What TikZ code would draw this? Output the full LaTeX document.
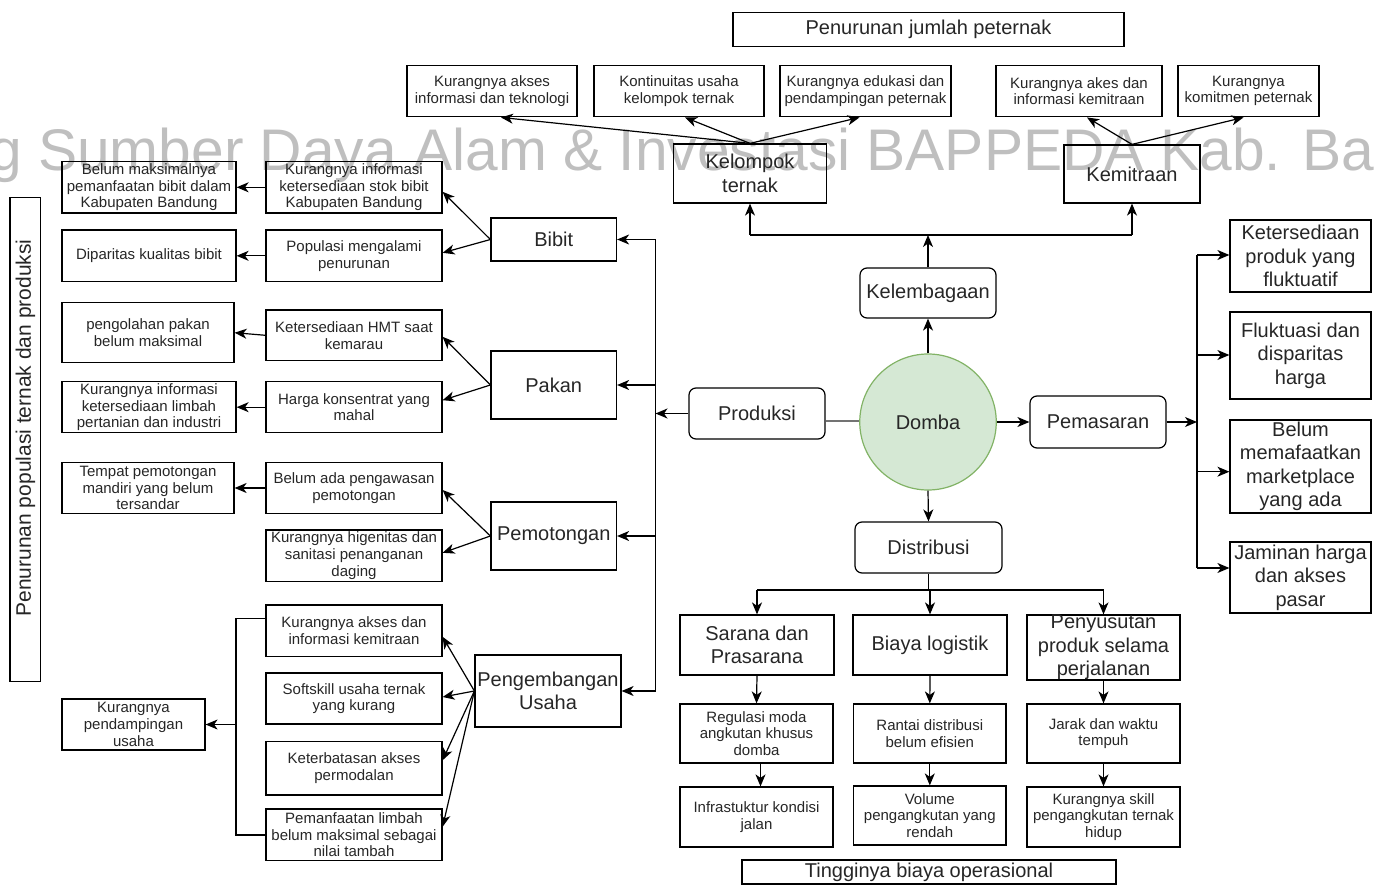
\documentclass[tikz,border=0pt]{standalone}
\usepackage{fontspec}
\setmainfont{Liberation Sans}
\usetikzlibrary{arrows.meta,shapes.geometric,calc}

\tikzset{
  bx/.style={draw=black, line width=1.2pt, align=center, inner sep=0pt, text=black!85},
  rbx/.style={bx, rounded corners=7pt},
  sm/.style={font=\fontsize{15}{16.7}\selectfont},
  md/.style={font=\fontsize{20}{23.5}\selectfont},
  arr/.style={-{Stealth[length=12pt,width=10pt,inset=3.5pt]}, line width=1.2pt},
  ln/.style={line width=1.2pt},
  mark text/.style={anchor=base west, inner sep=0pt, text=black!25,
    font=\fontsize{58.7}{60}\selectfont}
}

\begin{document}
\begin{tikzpicture}[x=1pt,y=-1pt]
\useasboundingbox (0,0) rectangle (1381,885);

% watermark behind everything
\begin{scope}
  \clip (0,0) rectangle (1381,885);
  \node[mark text] (wm) at (-11,171) {g Sumber Daya Alam \& Investasi BAPPEDA Kab. Ba};
\end{scope}

% ---------- centre ----------
\node[ellipse, draw={rgb,255:red,130;green,179;blue,102}, fill={rgb,255:red,213;green,232;blue,212},
      line width=1.2pt, minimum width=136.5, minimum height=136, inner sep=0pt, md, text=black!85]
      (dm) at (928,422) {Domba};
\node[rbx,md,minimum width=136,minimum height=50] (kl) at (928,293) {Kelembagaan};
\node[rbx,md,minimum width=136,minimum height=51] (pr) at (757,413.5) {Produksi};
\node[rbx,md,minimum width=147,minimum height=51] (ds) at (928.5,547.5) {Distribusi};
\node[rbx,md,minimum width=136,minimum height=52] (pm) at (1098,422) {Pemasaran};

% ---------- top: kelembagaan ----------
\node[bx,md,minimum width=391,minimum height=34] (pjp) at (928.5,29.7) {Penurunan jumlah peternak};
\node[bx,sm,minimum width=170,minimum height=51.7] (t1) at (492,91) {Kurangnya akses\\informasi dan teknologi};
\node[bx,sm,minimum width=170,minimum height=51.7] (t2) at (679,91) {Kontinuitas usaha\\kelompok ternak};
\node[bx,sm,minimum width=171,minimum height=51.7] (t3) at (865.5,91) {Kurangnya edukasi dan\\pendampingan peternak};
\node[bx,sm,minimum width=166,minimum height=51.7] (t4) at (1079,91) {Kurangnya akes dan\\informasi kemitraan};
\node[bx,sm,minimum width=141,minimum height=51.7] (t5) at (1248.5,91) {Kurangnya\\komitmen peternak};
\node[bx,md,minimum width=153,minimum height=59] (kt) at (750,173.5) {Kelompok\\ternak};
\node[bx,md,minimum width=136,minimum height=58] (km) at (1132,174) {Kemitraan};

\draw[arr] (dm.north) -- (kl.south);
\coordinate (hl) at (750,235);
\coordinate (hr) at (1132,235);
\draw[arr] (kl.north) -- (kl.north |- hl);
\draw[ln] (hl) -- (hr);
\draw[arr] (hl) -- (kt.south);
\draw[arr] (hr) -- (km.south);
\draw[arr] (kt.north) -- ($(t1.south)+(9,0)$);
\draw[arr] (kt.north) -- ($(t2.south)+(6,0)$);
\draw[arr] (kt.north) -- ($(t3.south)+(-6,0)$);
\draw[arr] (km.north) -- ($(t4.south)+(8,0)$);
\draw[arr] (km.north) -- ($(t5.south)+(-5,0)$);

% ---------- left: produksi ----------
\node[bx,md,minimum width=125.5,minimum height=43] (bb) at (553.75,239.5) {Bibit};
\node[bx,md,minimum width=125.5,minimum height=68] (pk) at (553.75,385) {Pakan};
\node[bx,md,minimum width=125.5,minimum height=68] (pt) at (553.75,536) {Pemotongan};
\node[bx,md,minimum width=146,minimum height=72] (pu) at (548,691) {Pengembangan\\Usaha};

\coordinate (sp) at (655.5,0);
\draw[ln, draw=black!55, line width=2pt] (dm.west |- 0,421) -- (pr.east |- 0,421);
\draw[arr] (pr.west) -- (sp |- pr.west);
\draw[ln] (sp |- bb.east) -- (sp |- pu.east);
\draw[arr] (sp |- bb.east) -- (bb.east);
\draw[arr] (sp |- pk.east) -- (pk.east);
\draw[arr] (sp |- pt.east) -- (pt.east);
\draw[arr] (sp |- pu.east) -- (pu.east);

% second column
\node[bx,sm,minimum width=176,minimum height=51.3] (c2a) at (354,187.3) {Kurangnya informasi\\ketersediaan stok bibit\\Kabupaten Bandung};
\node[bx,sm,minimum width=176,minimum height=51.7] (c2b) at (354,255.8) {Populasi mengalami\\penurunan};
\node[bx,sm,minimum width=176,minimum height=50.7] (c2c) at (354,335.3) {Ketersediaan HMT saat\\kemarau};
\node[bx,sm,minimum width=176,minimum height=51] (c2d) at (354,407.2) {Harga konsentrat yang\\mahal};
\node[bx,sm,minimum width=176,minimum height=50.6] (c2e) at (354,488) {Belum ada pengawasan\\pemotongan};
\node[bx,sm,minimum width=176,minimum height=51.7] (c2f) at (354,555.8) {Kurangnya higenitas dan\\sanitasi penanganan\\daging};
\node[bx,sm,minimum width=176,minimum height=51.7] (c2g) at (354,630.8) {Kurangnya akses dan\\informasi kemitraan};
\node[bx,sm,minimum width=176,minimum height=51] (c2h) at (354,698.5) {Softskill usaha ternak\\yang kurang};
\node[bx,sm,minimum width=176,minimum height=53.3] (c2i) at (354,768.3) {Keterbatasan akses\\permodalan};
\node[bx,sm,minimum width=176,minimum height=51.7] (c2j) at (354,834.8) {Pemanfaatan limbah\\belum maksimal sebagai\\nilai tambah};

% first column
\node[bx,sm,minimum width=174,minimum height=51.3] (c1a) at (149,187.3) {Belum maksimalnya\\pemanfaatan bibit dalam\\Kabupaten Bandung};
\node[bx,sm,minimum width=174,minimum height=51.7] (c1b) at (149,255.8) {Diparitas kualitas bibit};
\node[bx,sm,minimum width=172,minimum height=60] (c1c) at (148,332.7) {pengolahan pakan\\belum maksimal};
\node[bx,sm,minimum width=174,minimum height=51] (c1d) at (149,407.2) {Kurangnya informasi\\ketersediaan limbah\\pertanian dan industri};
\node[bx,sm,minimum width=172,minimum height=50.6] (c1e) at (148,488) {Tempat pemotongan\\mandiri yang belum\\tersandar};
\node[bx,sm,minimum width=143,minimum height=51] (c1f) at (133.5,724.5) {Kurangnya\\pendampingan\\usaha};

% side label: frame and rotated caption
\node[bx,rotate=90,minimum width=484,minimum height=30.7] (vframe) at (25.35,439.7) {};
\node[rotate=90,inner sep=0pt,text=black!85,font=\fontsize{21}{24}\selectfont] (vlab) at (25.35,428) {Penurunan populasi ternak dan produksi};

\draw[arr] (bb.west) -- ($(c2a.east)+(0,4.5)$);
\draw[arr] (bb.west) -- ($(c2b.east)+(0,-3)$);
\draw[arr] (pk.west) -- ($(c2c.east)+(0,1.5)$);
\draw[arr] (pk.west) -- ($(c2d.east)+(0,-7)$);
\draw[arr] (pt.west) -- ($(c2e.east)+(0,2)$);
\draw[arr] (pt.west) -- ($(c2f.east)+(0,-3)$);
\draw[arr] (pu.west) -- ($(c2g.east)+(0,6)$);
\draw[arr] (pu.west) -- ($(c2h.east)+(0,-1.5)$);
\draw[arr] (pu.west) -- ($(c2i.east)+(0,-8)$);
\draw[arr] (pu.west) -- ($(c2j.east)+(0,-8)$);

\draw[arr] (c2a.west) -- (c1a.east);
\draw[arr] (c2b.west) -- (c1b.east);
\draw[arr] (c2c.west) -- (c1c.east);
\draw[arr] (c2d.west) -- (c1d.east);
\draw[arr] (c2e.west) -- (c1e.east);

\coordinate (bt) at (236,618.3);
\coordinate (bm) at (236,835);
\draw[ln] (c2g.west |- bt) -- (bt) -- (bm) -- (c2j.west |- bm);
\draw[arr] (bt |- c1f.east) -- (c1f.east);

% ---------- bottom: distribusi ----------
\node[bx,md,minimum width=154,minimum height=60] (b1) at (757,645) {Sarana dan\\Prasarana};
\node[bx,md,minimum width=154,minimum height=60] (b2) at (930,645) {Biaya logistik};
\node[bx,md,minimum width=153,minimum height=65] (b3) at (1103.5,647.5) {Penyusutan\\produk selama\\perjalanan};
\node[bx,sm,minimum width=153,minimum height=59] (b4) at (756.5,733.5) {Regulasi moda\\angkutan khusus\\domba};
\node[bx,sm,minimum width=152.4,minimum height=59] (b5) at (929.8,733.5) {Rantai distribusi\\belum efisien};
\node[bx,sm,minimum width=153,minimum height=59] (b6) at (1103.5,733.5) {Jarak dan waktu\\tempuh};
\node[bx,sm,minimum width=153,minimum height=60] (b7) at (756.5,817) {Infrastuktur kondisi\\jalan};
\node[bx,sm,minimum width=152.4,minimum height=59] (b8) at (929.8,815.5) {Volume\\pengangkutan yang\\rendah};
\node[bx,sm,minimum width=153,minimum height=60] (b9) at (1103.5,817) {Kurangnya skill\\pengangkutan ternak\\hidup};
\node[bx,md,minimum width=374,minimum height=24] (tb) at (929,872) {Tingginya biaya operasional};

\draw[arr] (dm.south) -- (ds.north);
\coordinate (dl) at (757,590);
\coordinate (dr) at (1103.5,590);
\draw[ln] (ds.south) -- (ds.south |- dl);
\draw[ln] (dl) -- (dr);
\draw[arr] (dl) -- (b1.north);
\draw[arr] (b2.north |- dl) -- (b2.north);
\draw[arr] (dr) -- (b3.north);
\draw[arr] (b1.south) -- (b4.north);
\draw[arr] ($(b4.south)+(4,0)$) -- ($(b7.north)+(4,0)$);
\draw[arr] (b2.south) -- (b5.north);
\draw[arr] (b5.south) -- (b8.north);
\draw[arr] (b3.south) -- (b6.north);
\draw[arr] (b6.south) -- (b9.north);

% ---------- right: pemasaran ----------
\node[bx,md,minimum width=141,minimum height=72] (r1) at (1300.5,256) {Ketersediaan\\produk yang\\fluktuatif};
\node[bx,md,minimum width=141,minimum height=87] (r2) at (1300.5,355.5) {Fluktuasi dan\\disparitas\\harga};
\node[bx,md,minimum width=141,minimum height=93] (r3) at (1300.5,466.5) {Belum\\memafaatkan\\marketplace\\yang ada};
\node[bx,md,minimum width=141,minimum height=71] (r4) at (1300.5,577.5) {Jaminan harga\\dan akses\\pasar};

\coordinate (rs) at (1197,0);
\draw[arr] (dm.east) -- (pm.west);
\draw[arr] (pm.east) -- (rs |- pm.east);
\draw[ln] (rs |- 0,255) -- (rs |- 0,568);
\draw[arr] (rs |- 0,255) -- (r1.west |- 0,255);
\draw[arr] (rs |- 0,355) -- (r2.west |- 0,355);
\draw[arr] (rs |- 0,471.7) -- (r3.west |- 0,471.7);
\draw[arr] (rs |- 0,568) -- (r4.west |- 0,568);

\end{tikzpicture}
\end{document}
